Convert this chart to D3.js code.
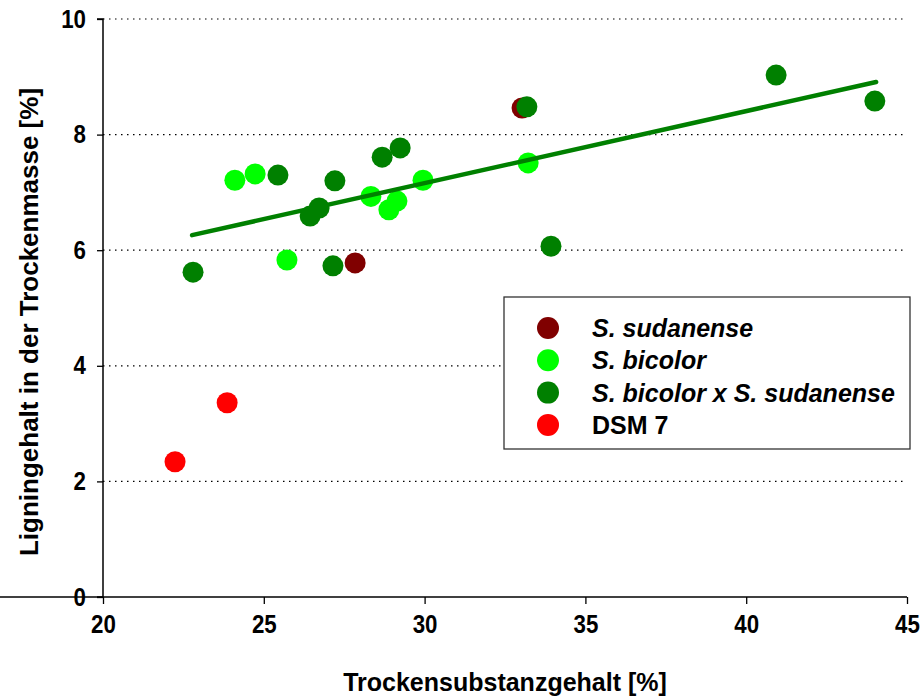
<!DOCTYPE html>
<html><head><meta charset="utf-8">
<script src="https://cdn.jsdelivr.net/npm/d3@7"></script>
<style>body{margin:0;background:#fff}text{font-family:"Liberation Sans",Arial,sans-serif;font-weight:bold}</style>
</head><body><svg id="c" width="922" height="698"></svg>
<script>
const seriesNames = ["S. sudanense","S. bicolor","S. bicolor x S. sudanense","DSM 7"];
const seriesColors = ["#800000","#00FF00","#008000","#FF0000"];
const sudanense = [[27.84,5.78],[33.03,8.46]];
const bicolor = [[24.1,7.21],[24.73,7.32],[25.72,5.83],[28.33,6.93],[28.89,6.70],[29.14,6.85],[29.95,7.21],[33.22,7.51]];
const hybrid = [[22.8,5.62],[25.44,7.30],[26.44,6.59],[26.72,6.73],[27.21,7.20],[27.15,5.73],[28.68,7.61],[29.24,7.77],[33.18,8.48],[33.93,6.07],[40.93,9.03],[44.0,8.58]];
const dsm7 = [[22.24,2.34],[23.86,3.36]];
const trend = [[22.77,6.26],[44.04,8.91]];
const xTicks = [20,25,30,35,40,45];
const yTicks = [0,2,4,6,8,10];

const svg = d3.select("#c");
const x = d3.scaleLinear().domain([20,45]).range([103,907]);
const y = d3.scaleLinear().domain([0,10]).range([597,19]);

// grid
svg.append("g").selectAll("line").data(yTicks.filter(d=>d>0)).join("line")
  .attr("x1",103).attr("x2",907).attr("y1",d=>y(d)).attr("y2",d=>y(d))
  .attr("stroke","#000").attr("stroke-width",1.2).attr("stroke-dasharray","1.5,4.5");

// axes
const xa = svg.append("g").attr("transform","translate(0,597)")
  .call(d3.axisBottom(x).tickValues(xTicks).tickSize(7).tickPadding(11).tickFormat(d3.format("d")));
const ya = svg.append("g").attr("transform","translate(103,0)")
  .call(d3.axisLeft(y).tickValues(yTicks).tickSize(6).tickPadding(11).tickFormat(d3.format("d")));
[xa,ya].forEach(a=>{
  a.select(".domain").attr("stroke","#000").attr("stroke-width",1.5);
  a.selectAll(".tick line").attr("stroke","#000").attr("stroke-width",1.3);
  a.selectAll(".tick text").attr("font-size",25).attr("font-family","Liberation Sans, Arial, sans-serif").attr("font-weight","bold").attr("fill","#000")
    .attr("textLength",d=>String(d).length*12.4).attr("lengthAdjust","spacingAndGlyphs");
});
ya.select(".domain").attr("d","M-6,597H0V19H-6");
xa.select(".domain").attr("d","M0,0H907");

// points
const groups = [sudanense,bicolor,hybrid,dsm7];
const order = [3,1,0,2];
order.forEach(i=>{
  svg.append("g").selectAll("circle").data(groups[i]).join("circle")
    .attr("cx",d=>x(d[0])).attr("cy",d=>y(d[1])).attr("r",10.5).attr("fill",seriesColors[i]);
});

// trend line
svg.append("path").datum(trend)
  .attr("d",d3.line().x(d=>x(d[0])).y(d=>y(d[1])))
  .attr("stroke","#008000").attr("stroke-width",4.5).attr("stroke-linecap","round").attr("fill","none");

// legend
const lg = svg.append("g");
lg.append("rect").attr("x",504).attr("y",297).attr("width",406).attr("height",152)
  .attr("fill","#fff").attr("stroke","#333").attr("stroke-width",1.3);
seriesNames.forEach((n,i)=>{
  const cy = 328 + i*32.3;
  lg.append("circle").attr("cx",548).attr("cy",cy).attr("r",11).attr("fill",seriesColors[i]);
  lg.append("text").attr("x",592).attr("y",cy+9).attr("font-size",25)
    .attr("font-style", i<3?"italic":"normal").text(n);
});

// titles
svg.append("text").attr("x",505).attr("y",691).attr("text-anchor","middle").attr("font-size",25).text("Trockensubstanzgehalt [%]");
svg.append("text").attr("transform","translate(38,322) rotate(-90)").attr("text-anchor","middle").attr("font-size",26).text("Ligningehalt in der Trockenmasse [%]");
</script></body></html>
